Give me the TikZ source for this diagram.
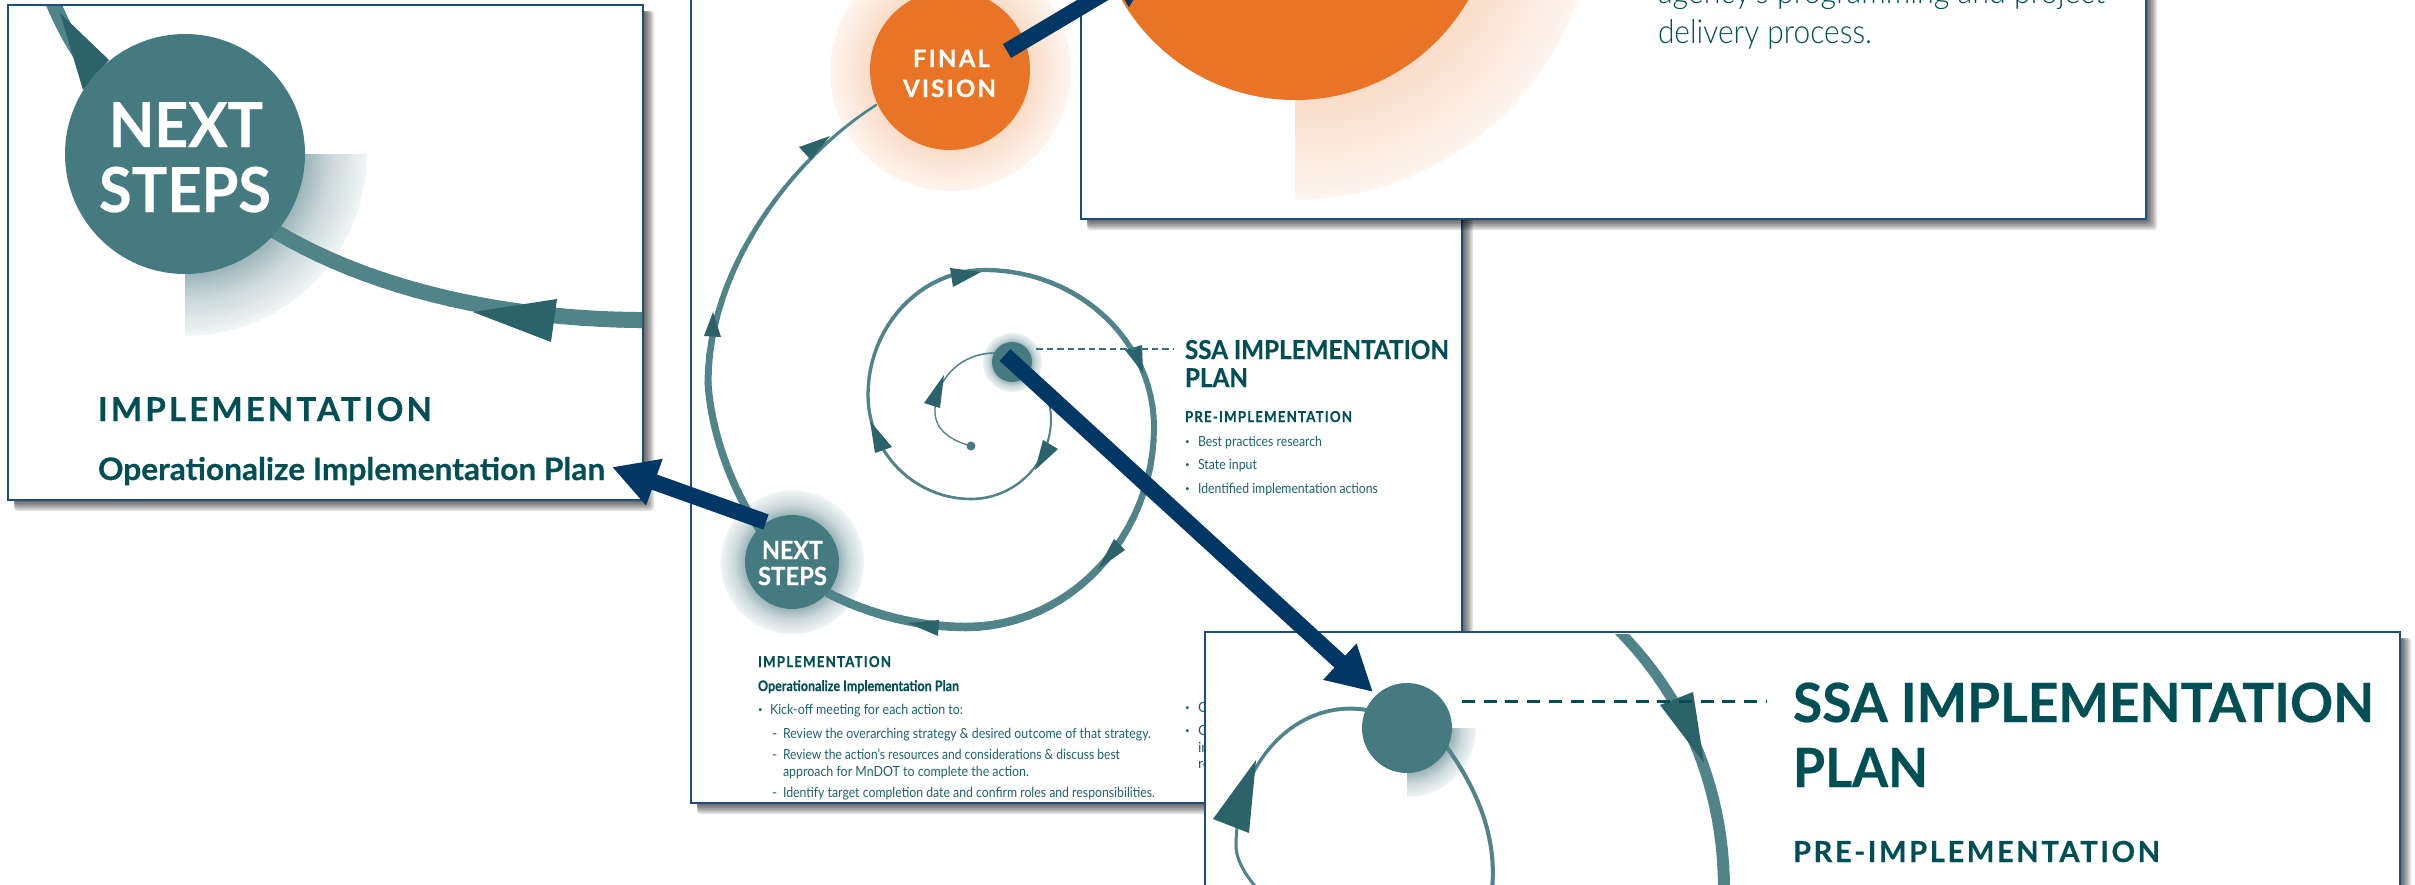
\documentclass[tikz,border=0pt]{standalone}
\usepackage{fontspec}
\setmainfont{Lato}[BoldFeatures={FakeBold=0.45}]
\newfontfamily\lite{Lato Light}
\usetikzlibrary{arrows.meta}
\definecolor{strand}{HTML}{508489}
\definecolor{ahead}{HTML}{2C6269}
\definecolor{circT}{HTML}{457B80}
\definecolor{txtT}{HTML}{004F54}
\definecolor{txtL}{HTML}{1F6368}
\definecolor{orng}{HTML}{E97425}
\definecolor{navy}{HTML}{003764}
\definecolor{frame}{HTML}{1B4E7E}
\definecolor{haloTa}{HTML}{9DB6B9}
\definecolor{haloTm}{HTML}{CBD8DA}
\definecolor{haloTb}{HTML}{F1F5F5}
\definecolor{haloOa}{HTML}{F9DCC8}
\definecolor{haloOb}{HTML}{FEF5EF}
\pgfdeclareradialshading{haloT}{\pgfpoint{0bp}{0bp}}{color(0bp)=(haloTa);color(16.5bp)=(haloTa);color(20bp)=(haloTm);color(24.9bp)=(haloTb);color(25bp)=(white);color(50bp)=(white)}
\pgfdeclareradialshading{haloO}{\pgfpoint{0bp}{0bp}}{color(0bp)=(haloOa);color(16.5bp)=(haloOa);color(24.9bp)=(haloOb);color(25bp)=(white);color(50bp)=(white)}
\newcommand\fitw[2]{\setbox0=\hbox{#2}\pgfmathparse{#1/\the\wd0}\scalebox{\pgfmathresult}[1]{#2}}
\newcommand\fs[1]{\fontsize{#1}{#1}\selectfont}
\newcommand\trk{\addfontfeature{LetterSpace=9}}
\newcommand\ahd[3]{\fill[ahead] (#1) -- (#2) -- (#3) -- cycle;}
\newcommand\bul{\raisebox{.18em}{\fontsize{8}{8}\selectfont•}}
\newcommand\panelshadow[4]{\foreach \d in {11,9.5,8,6.5,5,3.5,2}{\fill[black,opacity=.11,rounded corners=3pt] (#1+6,#2+6) rectangle (#3+\d,#4+\d);}}
% tapered strand: start, control, control, end, width at start, width at end
\newcommand\taper[6]{%
  \path (#1) .. controls (#2) and (#3) .. (#4)
    foreach \k [evaluate=\k as \q using \k/24] in {0,...,24}{coordinate[pos=\q] (tp\k)};
  \foreach \k [evaluate=\k as \j using int(\k+1)] in {0,...,23}{%
    \pgfmathsetmacro\lw{#5+(#6-#5)*\k/23}%
    \draw[draw=strand,line cap=round,line width=\lw pt] (tp\k) -- (tp\j);}%
}
\tikzset{
  txt/.style={anchor=base west,inner sep=0pt,outer sep=0pt,text=txtT},
  txl/.style={anchor=base west,inner sep=0pt,outer sep=0pt,text=txtL},
  txb/.style={anchor=base west,inner sep=0pt,outer sep=0pt,text=txtT,font=\lite},
  wht/.style={anchor=base west,inner sep=0pt,outer sep=0pt,text=white},
  panel/.style={fill=white,draw=frame,line width=2.4pt},
  bigarrow/.style={draw=navy,line width=16pt,-{Triangle[length=45pt,width=46pt,fill=navy]}},
  disc/.style={circle,inner sep=0pt,outer sep=0pt,minimum size=#1}
}
\begin{document}
\begin{tikzpicture}[x=1pt,y=-1pt]
\useasboundingbox (0,0) rectangle (2415,884);
\clip (0,0) rectangle (2415,884);
\fill[white] (0,0) rectangle (2415,884);

% ---------- middle page
\panelshadow{691}{-20}{1462}{803}
\draw[panel] (691,-20) rectangle (1462,803);
% halos
\shade[shading=haloO] (950,70) circle[radius=121pt];
\shade[shading=haloT] (792,562) circle[radius=72pt];
\shade[shading=haloT] (1012,362) circle[radius=30pt];
% spiral
\taper{971,446}{950,440}{935,430}{935,411}{1.3}{1.3}
\taper{935,411}{935,380}{960,353}{995,353}{1.3}{1.6}
\taper{1028,372}{1042,385}{1051,400}{1051,419}{1.8}{2}
\taper{1051,419}{1051,463}{1015,499}{971,499}{2}{2.6}
\taper{971,499}{914,499}{868,452}{868,395}{2.6}{3.3}
\taper{868,395}{868,326}{921,270}{985,270}{3.3}{4.2}
\taper{985,270}{1078,270}{1154,341}{1154,427}{4.2}{6}
\taper{1154,427}{1154,537}{1069,627}{966,627}{6}{8.5}
\taper{966,627}{920,627}{870,615}{828,593}{8.5}{9}
\taper{775,550}{742,512}{712,445}{708,383}{8}{7}
\taper{708,383}{708,270}{790,160}{876,105}{7}{2.5}
% arrowheads on the spiral
\ahd{944,375}{924,403}{940,408}
\ahd{1035,470}{1043,440}{1058,449}
\ahd{870,421}{875,453}{892,447}
\ahd{981,272}{950,268}{953,287}
\ahd{1143,373}{1125,350}{1142,345}
\ahd{1098,569}{1114,539}{1125,550}
\ahd{908,623}{939,620}{938,636}
\ahd{713,312}{704,336}{721,337}
\ahd{830,136}{799,147}{811,160}
% discs
\node[disc=160pt,fill=orng] (fv) at (950,70) {};
\node[disc=94pt,fill=circT] (ns) at (792,562) {};
\node[disc=40pt,fill=circT] (ssa) at (1012,362) {};
\node[disc=9pt,fill=circT] (dot) at (971,446) {};
\node[wht] (t1) at (913,67) {\fs{24}\bfseries\trk\fitw{77}{FINAL}};
\node[wht] (t2) at (903,97) {\fs{24}\bfseries\trk\fitw{93}{VISION}};
\node[wht] (t3) at (762,559) {\fs{25}\bfseries\fitw{61}{NEXT}};
\node[wht] (t4) at (758,585) {\fs{25}\bfseries\fitw{69}{STEPS}};
\coordinate (dl) at (1036,349);
\coordinate (dr) at (1174,349);
\draw[txtT!80!white,line width=1.2pt,dash pattern=on 6.5pt off 4pt] (dl) -- (dr);
% middle page text
\node[txt] (m1) at (1185,359) {\fs{26}\bfseries\fitw{264}{SSA IMPLEMENTATION}};
\node[txt] (m2) at (1185,387) {\fs{26}\bfseries\fitw{63}{PLAN}};
\node[txt] (m3) at (1185,422) {\fs{15}\bfseries\trk\fitw{167}{PRE-IMPLEMENTATION}};
\node[txl] (b1) at (1185,446) {\bul};
\node[txl] (b2) at (1185,469) {\bul};
\node[txl] (b3) at (1185,493) {\bul};
\node[txl] (m4) at (1198,446) {\fs{14}\fitw{124}{Best practices research}};
\node[txl] (m5) at (1198,469) {\fs{14}\fitw{59}{State input}};
\node[txl] (m6) at (1198,493) {\fs{14}\fitw{180}{Identified implementation actions}};
\node[txt] (i1) at (758,667) {\fs{15}\bfseries\trk\fitw{133}{IMPLEMENTATION}};
\node[txt] (i2) at (758,691) {\fs{14.5}\bfseries\fitw{201}{Operationalize Implementation Plan}};
\node[txl] (i0) at (758,714) {\bul};
\node[txl] (i3) at (770,714) {\fs{14}\fitw{193}{Kick-off meeting for each action to:}};
\node[txl] (i4a) at (772,738) {\fs{14}-};
\node[txl] (i4) at (783,738) {\fs{14}\fitw{368}{Review the overarching strategy \& desired outcome of that strategy.}};
\node[txl] (i5a) at (772,759) {\fs{14}-};
\node[txl] (i5) at (783,759) {\fs{14}\fitw{337}{Review the action’s resources and considerations \& discuss best}};
\node[txl] (i6) at (783,776) {\fs{14}\fitw{246}{approach for MnDOT to complete the action.}};
\node[txl] (i7a) at (772,797) {\fs{14}-};
\node[txl] (i7) at (783,797) {\fs{14}\fitw{372}{Identify target completion date and confirm roles and responsibilities.}};
\node[txl] (r0) at (1185,712) {\bul};
\node[txl] (r1) at (1198,712) {\fs{14}O};
\node[txl] (r2) at (1185,735) {\bul};
\node[txl] (r3) at (1198,735) {\fs{14}O};
\node[txl] (r4) at (1198,752) {\fs{14}in};
\node[txl] (r5) at (1198,768) {\fs{14}re};

% ---------- top inset
\panelshadow{1081}{-20}{2146}{219}
\draw[panel] (1081,-20) rectangle (2146,219);
\begin{scope}
  \clip (1295,-110) rectangle (1610,210);
  \shade[shading=haloO] (1295,-100) circle[radius=300pt];
\end{scope}
\node[disc=400pt,fill=orng] (fvbig) at (1295,-100) {};
\node[txb] (u1) at (1658,3) {\fs{33}\fitw{447}{agency’s programming and project}};
\node[txb] (u2) at (1658,43) {\fs{33}\fitw{214}{delivery process.}};

% ---------- left inset
\panelshadow{8}{5}{643}{500}
\draw[panel] (8,5) rectangle (643,500);
\begin{scope}
  \clip (185,154) rectangle (375,345);
  \shade[shading=haloT] (185,154) circle[radius=182pt];
\end{scope}
\begin{scope}
  \clip (9,6) rectangle (642,499);
  \taper{50,-5}{66,36}{85,65}{108,90}{15}{14}
  \taper{250,215}{350,285}{500,322}{660,320}{15}{16}
\end{scope}
\ahd{60,13}{109,60}{83,90}
\ahd{473,312}{557,299}{551,342}
\node[disc=240pt,fill=circT] (nsbig) at (185,154) {};
\node[wht] (l1) at (109,147) {\fs{62}\bfseries\fitw{154}{NEXT}};
\node[wht] (l2) at (99,212) {\fs{62}\bfseries\fitw{172}{STEPS}};
\node[txt] (l3) at (98,421) {\fs{33}\bfseries\trk\fitw{334}{IMPLEMENTATION}};
\node[txt] (l4) at (98,480) {\fs{31}\bfseries\fitw{507}{Operationalize Implementation Plan}};

% ---------- bottom inset
\panelshadow{1205}{632}{2400}{900}
\draw[panel] (1205,632) rectangle (2400,900);
\begin{scope}
  \clip (1407,728) rectangle (1480,800);
  \shade[shading=haloT] (1407,728) circle[radius=69pt];
\end{scope}
\taper{1372,711}{1300,695}{1236,760}{1236,845}{4}{3}
\taper{1236,845}{1236,860}{1245,875}{1260,892}{3}{3}
\taper{1440,738}{1480,790}{1497,840}{1492,890}{4}{4}
\begin{scope}
  \clip (1206,634) rectangle (2399,900);
  \taper{1613,625}{1680,690}{1724,780}{1724,890}{10}{12}
\end{scope}
\ahd{1256,760}{1213,819}{1249,833}
\ahd{1704,763}{1660,705}{1693,692}
\node[disc=90pt,fill=circT] (ssabig) at (1407,728) {};
\coordinate (Dl) at (1462,701);
\coordinate (Dr) at (1767,701);
\draw[txtT,line width=3pt,dash pattern=on 13pt off 8.7pt] (Dl) -- (Dr);
\node[txt] (s1) at (1793,722) {\fs{54}\bfseries\fitw{581}{SSA IMPLEMENTATION}};
\node[txt] (s2) at (1793,787) {\fs{54}\bfseries\fitw{135}{PLAN}};
\node[txt] (s3) at (1793,862) {\fs{29}\bfseries\trk\fitw{367}{PRE-IMPLEMENTATION}};

% ---------- call-out arrows
\coordinate (a1) at (1007,51);
\coordinate (a1t) at (1155,-37);
\coordinate (a2) at (766,522);
\coordinate (a2t) at (612,467);
\coordinate (a3) at (1005,355);
\coordinate (a3t) at (1373,692);
\draw[bigarrow] (a1) -- (a1t);
\draw[bigarrow] (a2) -- (a2t);
\draw[bigarrow] (a3) -- (a3t);
\end{tikzpicture}
\end{document}
